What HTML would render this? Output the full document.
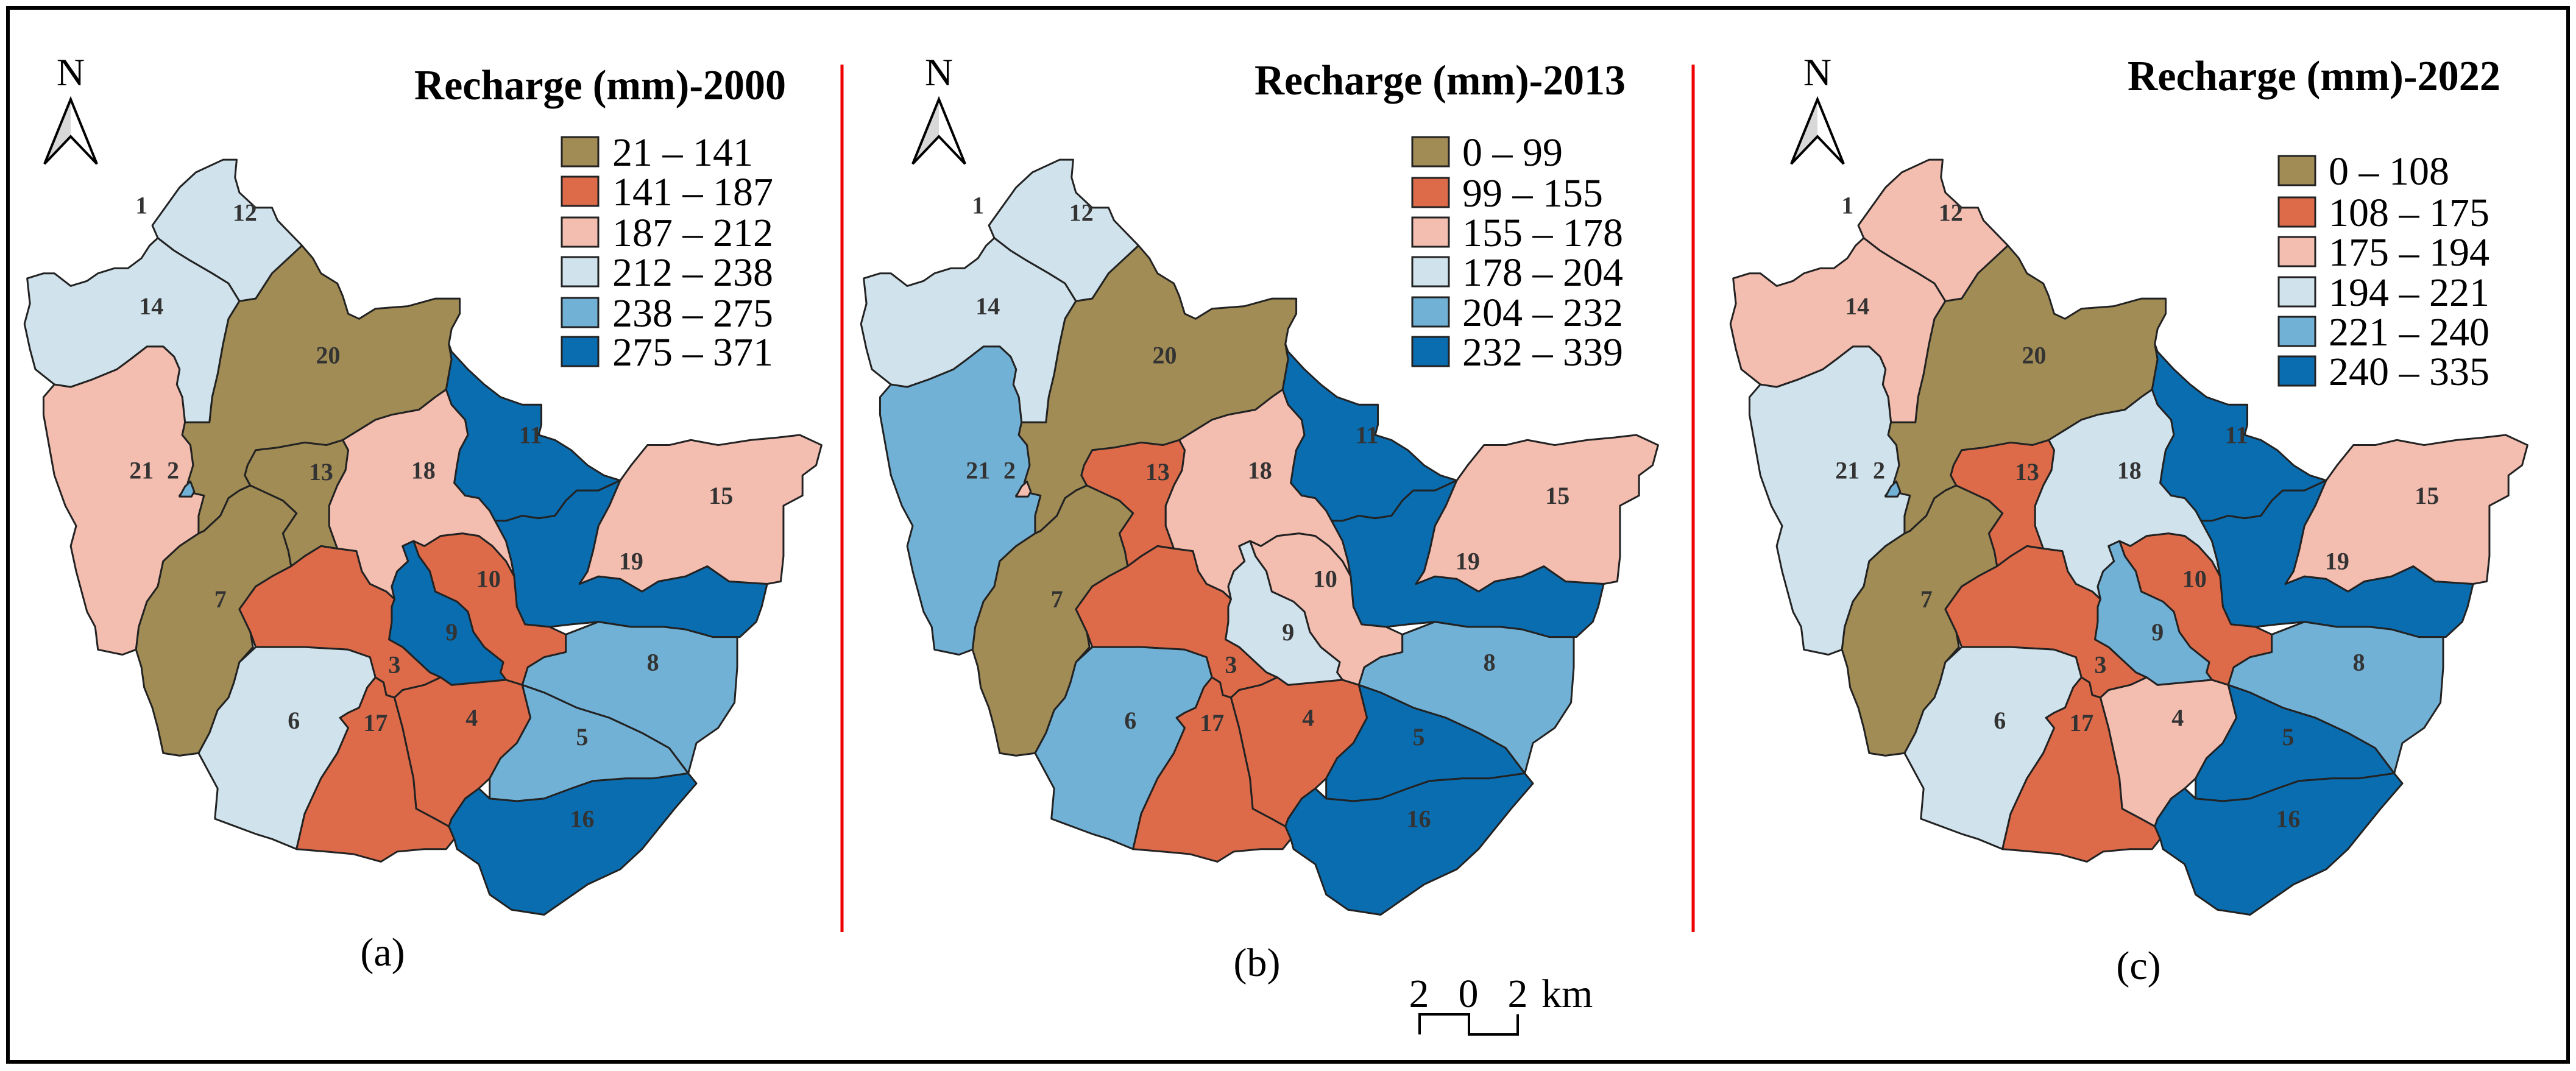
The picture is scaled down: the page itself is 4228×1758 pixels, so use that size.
<!DOCTYPE html>
<html><head><meta charset="utf-8">
<style>
html,body{margin:0;padding:0;background:#fff;}
svg{display:block;}
.lbl{font-family:"Liberation Serif",serif;font-weight:bold;font-size:40px;fill:#333;text-anchor:middle;dominant-baseline:central;}
.title{font-family:"Liberation Serif",serif;font-weight:bold;font-size:70px;fill:#000;}
.leg{font-family:"Liberation Serif",serif;font-size:66px;fill:#000;}
.cap{font-family:"Liberation Serif",serif;font-size:66px;fill:#000;text-anchor:middle;}
</style></head>
<body>
<svg id="fig" width="4228" height="1758" viewBox="0 0 4228 1758" xmlns="http://www.w3.org/2000/svg">
<rect x="13" y="13" width="4202" height="1730" fill="#fff" stroke="#000" stroke-width="6"/>
<line x1="1382" y1="106" x2="1382" y2="1530" stroke="#e00" stroke-width="5"/>
<line x1="2779" y1="106" x2="2779" y2="1530" stroke="#e00" stroke-width="5"/>
<g>
<text class="leg" x="2329" y="1653" text-anchor="middle">2</text>
<text class="leg" x="2410" y="1653" text-anchor="middle">0</text>
<text class="leg" x="2491" y="1653" text-anchor="middle">2</text>
<text class="leg" x="2530" y="1653">km</text>
<polyline points="2330,1698 2330,1665 2411,1665 2411,1698 2491,1698 2491,1665" fill="none" stroke="#000" stroke-width="4"/>
</g>
</svg>
<script>
// ---- data ----
const panelYears = ["2000","2013","2022"];
const legendA = ["21 – 141","141 – 187","187 – 212","212 – 238","238 – 275","275 – 371"];
const legendB = ["0 – 99","99 – 155","155 – 178","178 – 204","204 – 232","232 – 339"];
const legendC = ["0 – 108","108 – 175","175 – 194","194 – 221","221 – 240","240 – 335"];
const classColors = ["#a18c55","#dd6b4a","#f3bdb0","#d0e2ec","#72b1d6","#0a6db0"];
const regionIds = ["12","14","21","20","13","7","18","11","19","15","10","9","3","6","17","4","8","5","16","2"];
const classA = [3,3,2,0,0,0,2,5,5,2,1,5,1,3,1,1,4,4,5,4];
const classB = [3,3,4,0,1,0,2,5,5,2,2,3,1,4,1,1,4,5,5,2];
const classC = [2,2,3,0,1,0,3,5,5,2,1,4,1,3,1,2,4,5,5,4];
// region outlines (in local map units)
const shapes = {
"12":"280,205 330,130 360,100 410,75 435,75 432,110 440,140 470,170 500,170 510,195 555,245 535,265 500,300 470,350 440,355 420,320 390,300 350,275 320,255 290,230",
"14":"290,230 320,255 350,275 390,300 420,320 440,355 420,390 410,440 400,500 390,545 385,595 340,595 335,545 325,520 330,490 320,465 300,445 270,445 240,470 215,490 170,510 130,525 100,520 65,490 55,450 45,400 55,360 50,310 80,300 100,300 130,325 160,315 180,300 210,290 235,290 260,270 275,245",
"21":"100,520 130,525 170,510 215,490 240,470 270,445 300,445 320,465 330,490 325,520 335,545 340,595 335,620 350,640 355,680 345,720 330,740 355,735 375,740 365,780 365,815 330,840 300,870 290,920 270,950 255,1000 250,1045 225,1055 180,1045 175,1000 160,970 150,930 140,890 130,840 140,800 120,760 100,700 90,640 80,580 80,545",
"20":"440,355 470,350 500,300 535,265 555,245 575,270 590,300 620,320 630,345 640,380 660,390 690,370 750,365 800,350 845,350 845,380 830,410 825,440 830,470 820,530 800,545 770,570 720,580 690,590 660,610 630,630 600,640 560,635 510,645 470,650 455,680 450,700 460,720 440,730 420,745 405,780 375,810 365,815 365,780 375,740 355,735 345,715 355,680 350,640 335,620 340,595 385,595 390,545 400,500 410,440 420,390",
"13":"470,650 510,645 560,635 600,640 630,630 640,650 635,690 620,720 605,760 605,800 615,830 620,845 590,840 560,860 535,880 530,850 520,815 545,775 520,750 490,735 460,720 450,700 455,680",
"7":"365,815 375,810 405,780 420,745 440,730 460,720 490,735 520,750 545,775 520,815 530,850 535,880 500,900 470,920 440,965 460,1010 465,1040 440,1070 430,1110 420,1140 400,1165 385,1210 365,1250 330,1255 300,1250 290,1200 280,1160 265,1120 260,1080 250,1045 255,1000 270,950 290,920 300,870 330,840",
"18":"630,630 660,610 690,590 720,580 770,570 800,545 820,530 830,560 855,590 860,620 845,650 840,680 835,715 855,740 880,745 900,770 915,800 930,830 940,870 945,900 930,870 905,840 880,820 850,815 810,820 780,840 760,830 740,840 750,870 730,890 720,920 725,945 710,930 680,915 665,890 655,850 620,845 615,830 605,800 605,760 620,720 635,690 640,650",
"11":"820,530 830,470 825,440 830,455 860,490 890,520 920,545 960,560 995,560 995,600 990,620 1020,630 1050,650 1080,680 1110,700 1140,710 1100,730 1060,730 1040,750 1020,780 990,785 960,780 930,790 910,790 900,770 880,745 855,740 835,715 840,680 845,650 860,620 855,590 830,560",
"19":"910,790 930,790 960,780 990,785 1020,780 1040,750 1060,730 1100,730 1140,710 1120,760 1100,800 1090,850 1080,890 1065,915 1100,900 1140,905 1180,930 1210,910 1260,900 1300,880 1340,910 1410,915 1400,960 1390,990 1360,1020 1310,1020 1260,1005 1220,1000 1160,1000 1100,990 1050,995 1010,1000 965,995 950,960 945,900 940,870 930,830 915,800",
"15":"1140,710 1160,680 1190,640 1230,640 1270,630 1320,640 1380,630 1430,625 1470,620 1510,640 1500,680 1475,700 1475,740 1440,760 1440,800 1440,860 1435,910 1410,915 1340,910 1300,880 1260,900 1210,910 1180,930 1140,905 1100,900 1065,915 1080,890 1090,850 1100,800 1120,760",
"10":"760,830 780,840 810,820 850,815 880,820 905,840 930,870 945,900 950,960 965,995 1010,1000 1040,1015 1040,1050 1000,1060 970,1080 960,1115 930,1105 920,1090 925,1070 890,1040 870,1010 860,970 840,950 800,930 790,890 770,860",
"9":"740,840 760,830 770,860 790,890 800,930 840,950 860,970 870,1010 890,1040 925,1070 920,1090 930,1105 880,1110 830,1115 810,1100 790,1090 760,1060 740,1040 715,1025 720,990 720,960 725,945 720,920 730,890 750,870",
"3":"440,965 470,920 500,900 535,880 560,860 590,840 620,845 655,850 665,890 680,915 710,930 725,945 720,960 720,990 715,1025 740,1040 760,1060 790,1090 810,1100 780,1115 740,1125 725,1140 710,1135 705,1110 690,1100 680,1060 640,1045 560,1040 470,1040 460,1010",
"6":"470,1040 560,1040 640,1045 680,1060 690,1100 675,1120 660,1160 640,1170 625,1180 640,1200 620,1250 590,1300 560,1370 545,1440 500,1420 470,1410 420,1390 395,1380 400,1320 390,1300 365,1250 385,1210 400,1165 420,1140 430,1110 440,1070",
"17":"690,1100 705,1110 710,1135 725,1140 730,1160 740,1200 750,1250 760,1300 765,1360 800,1380 825,1395 835,1420 820,1440 780,1440 730,1445 700,1465 650,1450 600,1445 545,1440 560,1370 590,1300 620,1250 640,1200 625,1180 640,1170 660,1160 675,1120",
"4":"725,1140 740,1125 780,1115 810,1100 830,1115 880,1110 930,1105 960,1115 975,1180 950,1230 920,1260 900,1300 880,1320 855,1340 830,1380 825,1395 800,1380 765,1360 760,1300 750,1250 740,1200 730,1160",
"8":"960,1115 970,1080 1000,1060 1040,1050 1040,1015 1100,990 1160,1000 1220,1000 1260,1005 1310,1020 1355,1020 1355,1080 1350,1150 1320,1200 1280,1230 1265,1290 1230,1240 1180,1210 1120,1180 1060,1160 1000,1130",
"5":"960,1115 1000,1130 1060,1160 1120,1180 1180,1210 1230,1240 1265,1290 1200,1300 1150,1300 1090,1305 1050,1320 1000,1340 950,1345 900,1340 900,1300 920,1260 950,1230 975,1180",
"16":"830,1380 855,1340 880,1320 900,1340 950,1345 1000,1340 1050,1320 1090,1305 1150,1300 1200,1300 1265,1290 1280,1310 1240,1360 1210,1400 1180,1440 1140,1480 1080,1510 1040,1540 1000,1570 940,1560 900,1530 880,1470 840,1440 835,1420 825,1395",
"2":"330,742 340,722 350,712 357,732 352,742"
};
const labelIds = ["1","12","14","20","21","2","13","18","11","15","19","10","7","9","8","3","6","17","4","5","16"];
const labelX = [260,450,278,603,260,318,590,778,975,1325,1160,898,405,830,1200,725,540,690,867,1070,1070];
const labelY = [165,180,365,462,690,690,693,690,620,740,870,905,945,1010,1070,1075,1185,1190,1180,1218,1380];

// ---- layout (not data) ----
const NS="http://www.w3.org/2000/svg";
const svg=document.getElementById('fig');
const panels=[
 {off:0,   cls:classA, leg:legendA, north:116, titleX:680, titleW:610, titleY:163, swX:922, txX:1005, legY:[249,314,381,446,513,577], cap:"(a)", capX:628, capY:1585},
 {off:1373,cls:classB, leg:legendB, north:1541,titleX:2059,titleW:609, titleY:155, swX:2318,txX:2400, legY:[249,316,381,446,512,577], cap:"(b)", capX:2063,capY:1602},
 {off:2800,cls:classC, leg:legendC, north:2983,titleX:3492,titleW:612, titleY:148, swX:3740,txX:3822, legY:[280,348,413,479,544,609], cap:"(c)", capX:3510,capY:1607}
];
const sx=0.893, sy=0.829, oy=200;
function mk(tag,attrs){const e=document.createElementNS(NS,tag);for(const k in attrs)e.setAttribute(k,attrs[k]);return e;}
panels.forEach((p,pi)=>{
  const g=mk('g',{});
  
  
  svg.appendChild(g);
  const mg=mk('g',{transform:`translate(${p.off},${oy}) scale(${sx},${sy})`});
  g.appendChild(mg);
  regionIds.forEach((id,i)=>{
    const poly=mk('polygon',{points:shapes[id],fill:classColors[p.cls[i]],stroke:'#222','stroke-width':'3','vector-effect':'non-scaling-stroke','stroke-linejoin':'round'});
    
    
    mg.appendChild(poly);
  });
  labelIds.forEach((id,i)=>{
    const t=mk('text',{class:'lbl',x:(p.off+labelX[i]*sx).toFixed(1),y:(oy+labelY[i]*sy).toFixed(1)});
    t.textContent=id;
    
    
    g.appendChild(t);
  });
  // north arrow
  const n=p.north;
  const nt=mk('text',{x:n,y:140,'text-anchor':'middle','font-family':'Liberation Serif, serif','font-size':'64'});
  nt.textContent='N';
  
  
  g.appendChild(nt);
  const ar=mk('g',{});
  
  
  ar.appendChild(mk('polygon',{points:`${n},163 ${n-43},269 ${n},224`,fill:'#d8d8d8',stroke:'none'}));
  ar.appendChild(mk('polygon',{points:`${n},163 ${n-43},269 ${n},224 ${n+43},269`,fill:'none',stroke:'#000','stroke-width':'4','stroke-linejoin':'miter'}));
  g.appendChild(ar);
  // title
  const tt=mk('text',{class:'title',x:p.titleX,y:p.titleY,textLength:p.titleW,lengthAdjust:'spacingAndGlyphs'});
  tt.textContent='Recharge (mm)-'+panelYears[pi];
  
  
  g.appendChild(tt);
  p.leg.forEach((lab,k)=>{
    const le=mk('g',{});
    
    
    le.appendChild(mk('rect',{x:p.swX,y:p.legY[k]-24,width:60,height:48,fill:classColors[k],stroke:'#222','stroke-width':'3'}));
    const lt=mk('text',{class:'leg',x:p.txX,y:p.legY[k]+23});
    lt.textContent=lab;
    le.appendChild(lt);
    g.appendChild(le);
  });
  const ct=mk('text',{class:'cap',x:p.capX,y:p.capY});
  ct.textContent=p.cap;
  
  
  g.appendChild(ct);
});
</script>
</body></html>
